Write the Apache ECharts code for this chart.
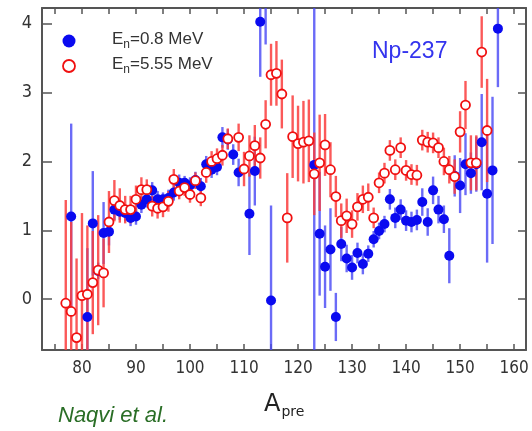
<!DOCTYPE html>
<html>
<head>
<meta charset="utf-8">
<script src="https://cdn.jsdelivr.net/npm/echarts@6/dist/echarts.min.js"></script>
<style>
html,body{margin:0;padding:0;background:#fff;}
#chart{width:532px;height:431px;}
</style>
</head>
<body>
<div id="chart"></div>
<script>
// ---- data: En = 0.8 MeV (filled blue) ----
var blueA = [78,81,82,83,84,85,86,87,88,89,90,91,92,93,94,95,96,97,98,99,100,101,102,103,104,105,106,107,108,109,111,112,113,114,115,123,124,125,126,127,128,129,130,131,132,133,134,135,136,137,138,139,140,141,142,143,144,145,146,147,148,149,150,151,152,153,154,155,156,157];
var blueV = [1.20,-0.26,1.10,0.41,0.96,0.98,1.30,1.27,1.25,1.18,1.20,1.37,1.45,1.58,1.45,1.45,1.47,1.55,1.69,1.69,1.65,1.73,1.64,1.96,1.88,1.92,2.35,2.32,2.10,1.84,1.24,1.86,4.03,4.60,-0.02,1.95,0.95,0.47,0.72,-0.26,0.80,0.59,0.46,0.67,0.51,0.66,0.87,0.99,1.09,1.45,1.18,1.30,1.14,1.12,1.15,1.41,1.12,1.58,1.30,1.16,0.63,1.79,1.65,1.96,1.83,1.96,2.28,1.53,1.87,3.93];
var blueE = [1.35,1.0,0.76,0.12,0.45,0.2,0.15,0.12,0.12,0.12,0.12,0.12,0.12,0.12,0.12,0.1,0.12,0.12,0.12,0.1,0.12,0.12,0.12,0.12,0.12,0.12,0.15,0.15,0.15,0.2,0.6,0.5,0.8,0.9,1.38,2.8,0.9,0.6,0.6,0.35,0.25,0.2,0.18,0.15,0.15,0.12,0.12,0.12,0.12,0.15,0.15,0.15,0.15,0.15,0.15,0.2,0.2,0.2,0.2,0.2,0.4,0.3,0.4,0.45,0.3,0.4,0.7,1.0,1.07,0.85];

// ---- data: En = 5.55 MeV (open red) ----
var redA = [77,78,79,80,81,82,83,84,85,86,87,88,89,90,91,92,93,94,95,96,97,98,99,100,101,102,103,104,105,106,107,109,110,111,112,113,114,115,116,117,118,119,120,121,122,123,124,125,126,127,128,129,130,131,132,133,134,135,136,137,138,139,140,141,142,143,144,145,146,147,148,149,150,151,152,153,154,155];
var redV = [-0.06,-0.18,-0.56,0.05,0.07,0.24,0.42,0.38,1.12,1.43,1.36,1.30,1.30,1.45,1.59,1.59,1.35,1.32,1.34,1.42,1.74,1.57,1.62,1.52,1.72,1.47,1.84,2.00,2.04,2.09,2.33,2.35,1.89,2.08,2.23,2.05,2.54,3.26,3.28,2.98,1.18,2.36,2.26,2.28,2.30,1.82,1.98,2.24,1.88,1.49,1.14,1.21,1.09,1.34,1.45,1.48,1.18,1.69,1.83,2.16,1.88,2.20,1.87,1.81,1.80,2.31,2.28,2.27,2.20,2.00,1.88,1.78,2.43,2.82,1.98,1.98,3.59,2.45];
var redE = [1.5,1.3,1.15,1.2,1.0,0.75,0.8,0.5,0.45,0.3,0.25,0.2,0.2,0.2,0.18,0.15,0.15,0.15,0.15,0.15,0.15,0.12,0.12,0.12,0.12,0.12,0.15,0.15,0.15,0.15,0.15,0.2,0.25,0.3,0.3,0.3,0.35,0.45,0.47,0.5,0.65,0.6,0.55,0.6,0.6,0.6,0.7,0.45,0.4,0.3,0.25,0.25,0.2,0.2,0.2,0.2,0.15,0.15,0.15,0.15,0.15,0.15,0.15,0.15,0.15,0.15,0.15,0.15,0.15,0.2,0.2,0.25,0.3,0.35,0.4,0.4,0.52,0.75];

var xMajorTicks = [80,90,100,110,120,130,140,150,160];
var xMinorTicks = [75,80,85,90,95,100,105,110,115,120,125,130,135,140,145,150,155,160];
var yTicks = [0,1,2,3,4];

function pts(a, v){ return a.map(function(x,i){ return [x, v[i]]; }); }
function bars(a, v, e){ return a.map(function(x,i){ return [x, v[i]-e[i], v[i]+e[i]]; }); }

function errSeries(data, color){
  return {
    type: 'custom',
    data: data,
    encode: {x: 0, y: [1, 2]},
    z: 1,
    silent: true,
    renderItem: function(params, api){
      var cs = params.coordSys;
      var p1 = api.coord([api.value(0), api.value(1)]);
      var p2 = api.coord([api.value(0), api.value(2)]);
      var top = cs.y, bot = cs.y + cs.height;
      var y1 = Math.min(Math.max(p1[1], top), bot);
      var y2 = Math.min(Math.max(p2[1], top), bot);
      if (y1 === y2) return null;
      return {type: 'line', shape: {x1: p1[0], y1: y1, x2: p2[0], y2: y2},
              style: {stroke: color, lineWidth: 2.4}};
    }
  };
}

var chart = echarts.init(document.getElementById('chart'), null, {renderer: 'canvas'});
var axisCol = '#555';
var option = {
  animation: false,
  backgroundColor: '#fff',
  grid: {left: 42, right: 6, top: 8, bottom: 81, containLabel: false},
  xAxis: [{
    type: 'value', min: 72.6, max: 162.2, position: 'bottom',
    axisLine: {show: true, onZero: false, lineStyle: {color: axisCol, width: 2}},
    axisTick: {show: true, inside: true, length: 6, customValues: xMinorTicks, lineStyle: {color: axisCol, width: 1.5}},
    axisLabel: {customValues: xMajorTicks, fontSize: 17, color: '#333', margin: 10, fontFamily: 'DejaVu Sans Condensed'},
    splitLine: {show: false}
  }, {
    type: 'value', min: 72.6, max: 162.2, position: 'top',
    axisLine: {show: true, onZero: false, lineStyle: {color: axisCol, width: 2}},
    axisTick: {show: true, inside: true, length: 6, customValues: xMinorTicks, lineStyle: {color: axisCol, width: 1.5}},
    axisLabel: {show: false},
    splitLine: {show: false}
  }],
  yAxis: [{
    type: 'value', min: -0.74, max: 4.23, position: 'left',
    axisLine: {show: true, onZero: false, lineStyle: {color: axisCol, width: 2}},
    axisTick: {show: true, inside: true, length: 10, customValues: yTicks, lineStyle: {color: axisCol, width: 1.5}},
    axisLabel: {customValues: yTicks, fontSize: 18, color: '#333', margin: 10, fontFamily: 'DejaVu Sans Condensed'},
    splitLine: {show: false}
  }, {
    type: 'value', min: -0.74, max: 4.23, position: 'right',
    axisLine: {show: true, onZero: false, lineStyle: {color: axisCol, width: 2}},
    axisTick: {show: true, inside: true, length: 8, customValues: yTicks, lineStyle: {color: axisCol, width: 1.5}},
    axisLabel: {show: false},
    splitLine: {show: false}
  }],
  series: [
    errSeries(bars(blueA, blueV, blueE), 'rgba(70,70,245,0.8)'),
    errSeries(bars(redA, redV, redE), 'rgba(250,60,60,0.85)'),
    {
      type: 'scatter', name: 'En=0.8 MeV', data: pts(blueA, blueV), z: 3,
      symbol: 'circle', symbolSize: 10,
      itemStyle: {color: '#0a0af0', opacity: 1}
    },
    {
      type: 'scatter', name: 'En=5.55 MeV', data: pts(redA, redV), z: 4,
      symbol: 'circle', symbolSize: 9,
      itemStyle: {color: '#ffffff', borderColor: '#f01010', borderWidth: 1.8, opacity: 1}
    }
  ],
  graphic: [
    {type: 'circle', shape: {cx: 69, cy: 41, r: 6.5}, style: {fill: '#0a0af0'}, z: 10},
    {type: 'circle', shape: {cx: 69, cy: 66, r: 6}, style: {fill: '#fff', stroke: '#f01010', lineWidth: 1.8}, z: 10},
    {type: 'text', left: 112, top: 31, z: 10, style: {
      text: '{a|E}{b|n}{a|=0.8 MeV}',
      rich: {a: {fontSize: 17, fill: '#333', fontFamily: 'Liberation Sans'},
             b: {fontSize: 12, fill: '#333', fontFamily: 'Liberation Sans', padding: [10,0,0,0]}}
    }},
    {type: 'text', left: 112, top: 56, z: 10, style: {
      text: '{a|E}{b|n}{a|=5.55 MeV}',
      rich: {a: {fontSize: 17, fill: '#333', fontFamily: 'Liberation Sans'},
             b: {fontSize: 12, fill: '#333', fontFamily: 'Liberation Sans', padding: [10,0,0,0]}}
    }},
    {type: 'text', left: 372, top: 40, z: 10, style: {
      text: 'Np-237', fontSize: 23, fill: '#3434ee', fontFamily: 'Liberation Sans'
    }},
    {type: 'text', left: 264, top: 393, z: 10, style: {
      text: '{a|A}{b|pre}',
      rich: {a: {fontSize: 24, fill: '#222', fontFamily: 'DejaVu Sans'},
             b: {fontSize: 14, fill: '#222', fontFamily: 'DejaVu Sans', padding: [14,0,0,1]}}
    }},
    {type: 'text', left: 58, top: 405, z: 10, style: {
      text: 'Naqvi et al.', fontSize: 22, fontStyle: 'italic', fill: '#2a6e26',
      fontFamily: 'Liberation Sans', textShadowColor: 'rgba(225,200,40,0.9)', textShadowOffsetX: -1, textShadowOffsetY: 0, textShadowBlur: 0
    }}
  ]
};
chart.setOption(option);
</script>
</body>
</html>
